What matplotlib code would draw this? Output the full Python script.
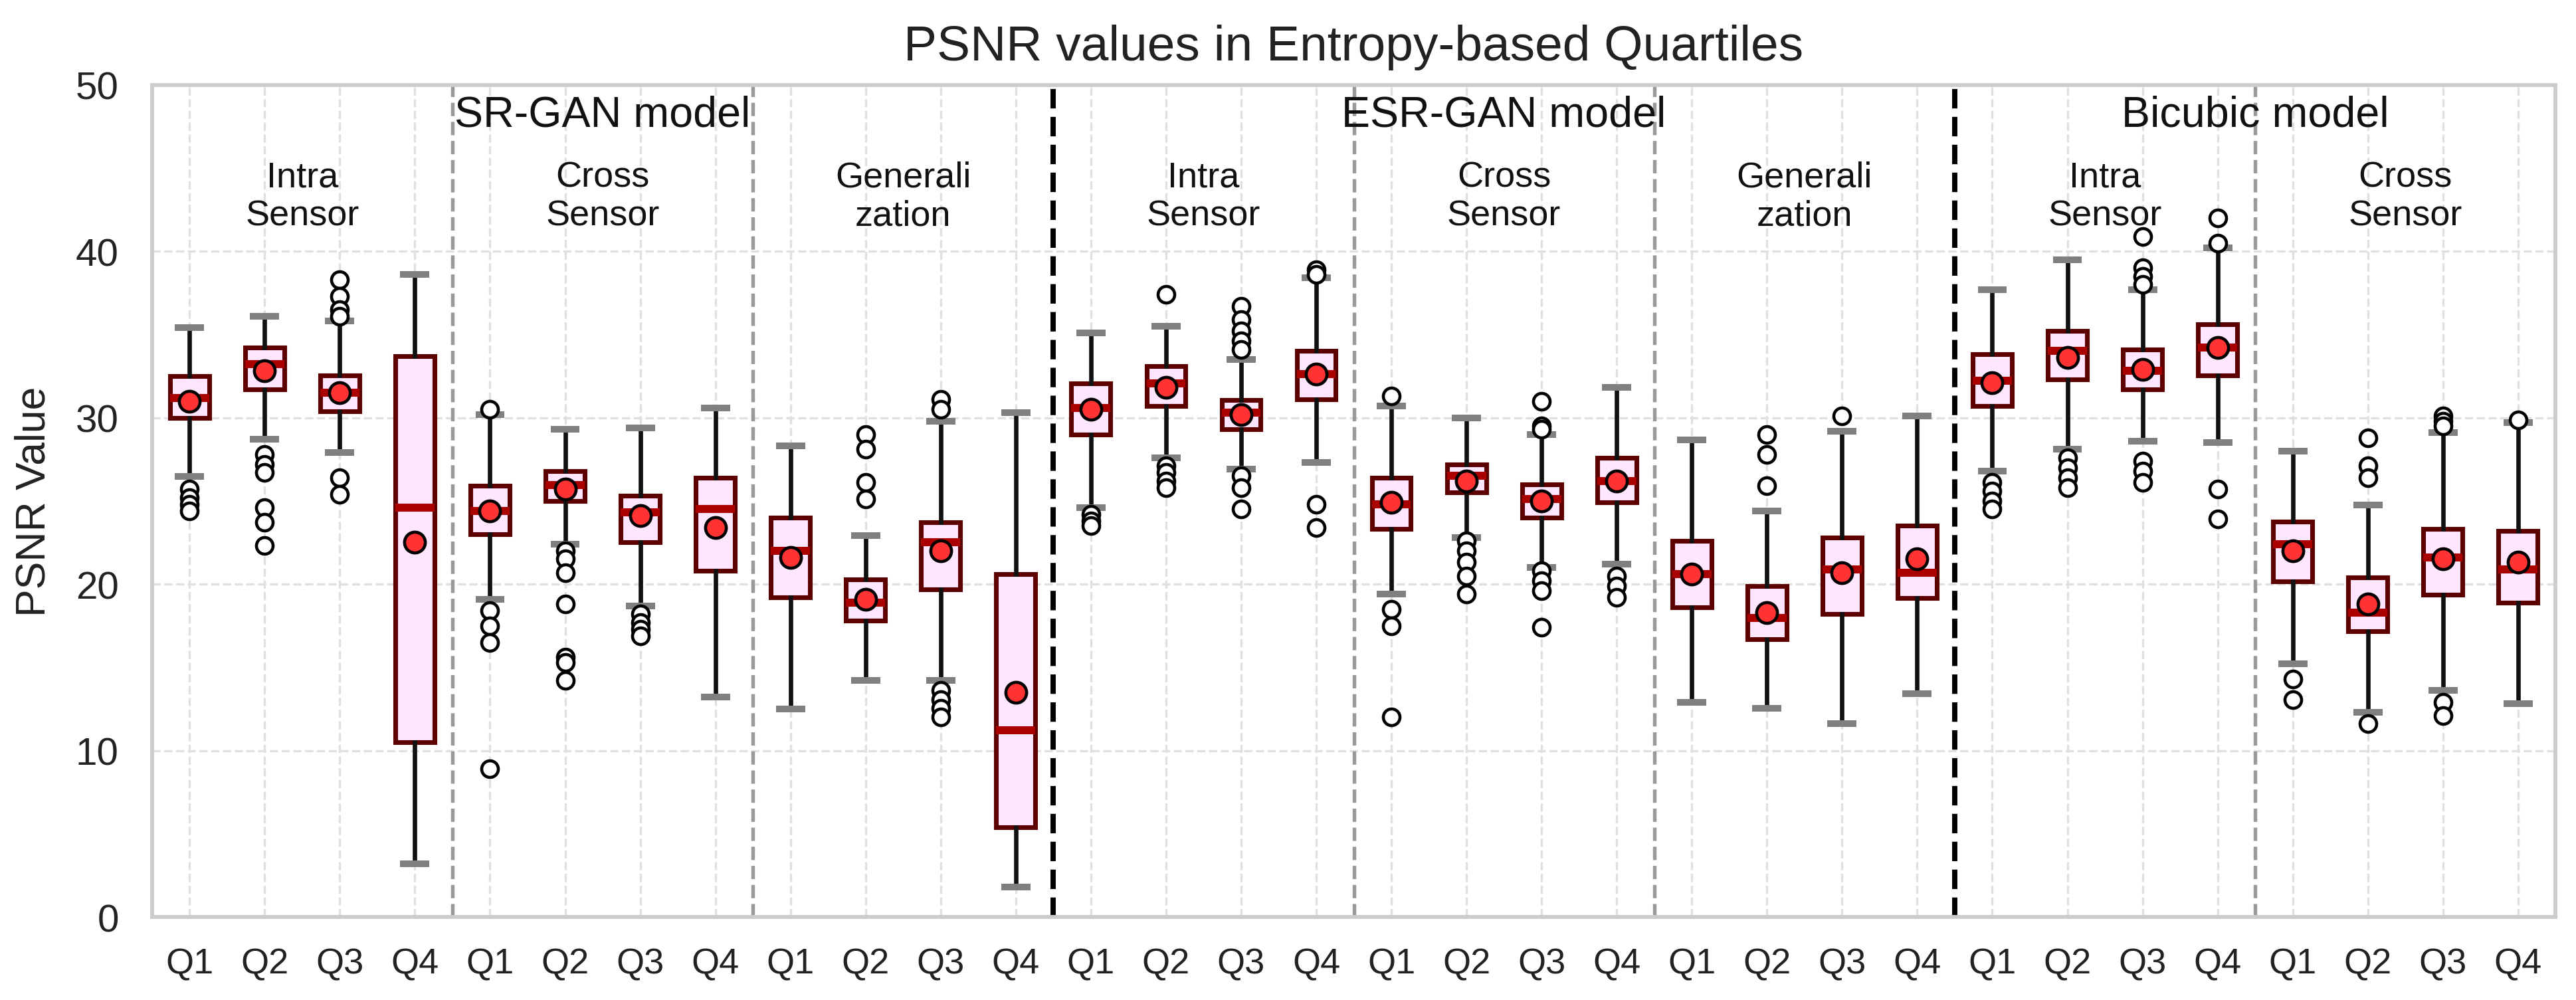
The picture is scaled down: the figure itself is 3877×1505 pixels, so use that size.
import matplotlib
matplotlib.use("Agg")
from matplotlib import pyplot as plt

plt.rcParams['font.family'] = ['Liberation Sans', 'DejaVu Sans']

# box statistics, 32 boxes (8 groups x 4 quartiles)
quartile_labels = ['Q1', 'Q2', 'Q3', 'Q4'] * 8

whislo = [26.45, 28.7, 27.9, 3.2, 19.1, 22.4, 18.7, 13.2,
          12.5, 14.2, 14.2, 1.8, 24.6, 27.6, 26.9, 27.3,
          19.4, 22.8, 21.0, 21.2, 12.9, 12.55, 11.6, 13.4,
          26.8, 28.1, 28.6, 28.5, 15.2, 12.3, 13.6, 12.8]
q1 = [30.0, 31.7, 30.4, 10.5, 23.0, 25.0, 22.5, 20.8,
      19.2, 17.8, 19.7, 5.4, 29.0, 30.7, 29.3, 31.1,
      23.3, 25.5, 24.0, 24.9, 18.6, 16.7, 18.2, 19.15,
      30.7, 32.3, 31.7, 32.55, 20.15, 17.15, 19.35, 18.9]
med = [31.2, 33.2, 31.5, 24.6, 24.4, 25.95, 24.3, 24.5,
       22.0, 18.9, 22.5, 11.2, 30.6, 32.05, 30.3, 32.6,
       24.8, 26.5, 25.1, 26.2, 20.6, 17.95, 20.9, 20.7,
       32.2, 34.0, 32.8, 34.2, 22.4, 18.3, 21.6, 20.9]
q3 = [32.5, 34.2, 32.55, 33.7, 25.9, 26.8, 25.3, 26.4,
      24.0, 20.3, 23.7, 20.6, 32.05, 33.1, 31.05, 34.0,
      26.4, 27.2, 26.0, 27.6, 22.6, 19.9, 22.8, 23.5,
      33.8, 35.2, 34.1, 35.6, 23.75, 20.4, 23.3, 23.2]
whishi = [35.4, 36.1, 35.8, 38.6, 30.2, 29.3, 29.4, 30.6,
          28.3, 22.9, 29.8, 30.3, 35.1, 35.5, 33.5, 38.4,
          30.7, 30.0, 29.0, 31.8, 28.65, 24.4, 29.2, 30.1,
          37.7, 39.5, 37.7, 40.2, 28.0, 24.75, 29.1, 29.7]
means = [31.0, 32.8, 31.5, 22.5, 24.4, 25.7, 24.1, 23.4,
         21.6, 19.1, 22.0, 13.5, 30.5, 31.8, 30.2, 32.6,
         24.9, 26.2, 25.0, 26.2, 20.6, 18.3, 20.7, 21.5,
         32.1, 33.6, 32.9, 34.2, 22.0, 18.8, 21.5, 21.3]
fliers = [
    [25.7, 25.2, 24.8, 24.4],
    [27.8, 27.2, 26.7, 24.6, 23.7, 22.3],
    [38.3, 37.3, 36.5, 36.1, 26.4, 25.4],
    [],
    [30.5, 18.4, 17.5, 16.5, 8.9],
    [22.0, 21.5, 20.7, 18.8, 15.6, 15.3, 14.2],
    [18.2, 17.7, 17.3, 16.9],
    [],
    [],
    [29.0, 28.1, 26.1, 25.1],
    [31.1, 30.5, 13.6, 13.05, 12.55, 12.0],
    [],
    [24.2, 23.8, 23.5],
    [37.4, 27.1, 26.7, 26.2, 25.8],
    [36.7, 35.9, 35.2, 34.6, 34.1, 26.5, 25.8, 24.5],
    [38.9, 38.6, 24.8, 23.4],
    [31.3, 18.5, 17.5, 12.0],
    [22.6, 22.0, 21.3, 20.5, 19.4],
    [31.0, 29.5, 29.3, 20.8, 20.2, 19.6, 17.4],
    [20.5, 19.9, 19.2],
    [],
    [29.0, 27.8, 25.9],
    [30.1],
    [],
    [26.1, 25.6, 25.0, 24.5],
    [27.6, 27.0, 26.4, 25.8],
    [40.9, 39.0, 38.5, 38.0, 27.4, 26.8, 26.1],
    [42.0, 40.5, 25.7, 23.9],
    [14.3, 13.05],
    [28.8, 27.1, 26.4, 11.6],
    [30.1, 29.8, 29.5, 12.9, 12.1],
    [29.85],
]

models = ['SR-GAN model', 'ESR-GAN model', 'Bicubic model']
model_sizes = [12, 12, 8]
subgroups = ['Intra\nSensor', 'Cross\nSensor', 'Generali\nzation',
             'Intra\nSensor', 'Cross\nSensor', 'Generali\nzation',
             'Intra\nSensor', 'Cross\nSensor']

stats = []
for i in range(len(med)):
    stats.append({
        'label': quartile_labels[i],
        'whislo': whislo[i], 'q1': q1[i], 'med': med[i],
        'q3': q3[i], 'whishi': whishi[i], 'mean': means[i],
        'fliers': fliers[i],
    })

positions = list(range(1, len(stats) + 1))

fig = plt.figure(figsize=(3877 / 300, 1506 / 300), dpi=300)
ax = fig.add_axes([0.059, 0.083, 0.9331, 0.8316])

ax.bxp(
    stats, positions=positions, widths=0.52, capwidths=0.3,
    patch_artist=True, showmeans=True, showfliers=True,
    boxprops=dict(facecolor='#ffe6ff', edgecolor='#5c0000', linewidth=1.7),
    medianprops=dict(color='#aa0000', linewidth=2.9),
    whiskerprops=dict(color='#111111', linewidth=1.6),
    capprops=dict(color='#808080', linewidth=2.4),
    meanprops=dict(marker='o', markerfacecolor='#ff3333',
                   markeredgecolor='black', markersize=7.5,
                   markeredgewidth=1.1),
    flierprops=dict(marker='o', markerfacecolor='white',
                    markeredgecolor='black', markersize=6,
                    markeredgewidth=1.1),
)

# group separators
n = 0
for gi in range(len(subgroups) - 1):
    n += 4
    if n in (12, 24):
        ax.axvline(n + 0.5, color='black', linestyle='--', linewidth=1.9, zorder=1)
    else:
        ax.axvline(n + 0.5, color='#999999', linestyle='--', linewidth=1.3, zorder=1)

# subgroup and model labels
for gi, name in enumerate(subgroups):
    ax.text(gi * 4 + 2.5, 43.3, name, ha='center', va='center',
            fontsize=13, color='#111111')

start = 0
for name, size in zip(models, model_sizes):
    ax.text(start + (size + 1) / 2, 48.2, name, ha='center', va='center',
            fontsize=15.5, color='#111111')
    start += size

ax.set_xlim(0.5, 32.5)
ax.set_ylim(0, 50)
ax.set_yticks([0, 10, 20, 30, 40, 50])
ax.set_xticks(positions)
ax.set_xticklabels(quartile_labels)
ax.tick_params(axis='x', labelsize=13, length=0, pad=11, colors='#222222')
ax.tick_params(axis='y', labelsize=14, length=0, pad=12, colors='#222222')

ax.grid(True, linestyle='--', color='#e0e0e0', linewidth=0.8)
ax.set_axisbelow(True)
for sp in ax.spines.values():
    sp.set_color('#cccccc')
    sp.set_linewidth(1.4)

ax.set_ylabel('PSNR Value', fontsize=15, color='#222222', labelpad=8)
ax.set_title('PSNR values in Entropy-based Quartiles', fontsize=18,
             color='#222222', pad=9)

fig.savefig('out.png', dpi=300)
plt.close(fig)
